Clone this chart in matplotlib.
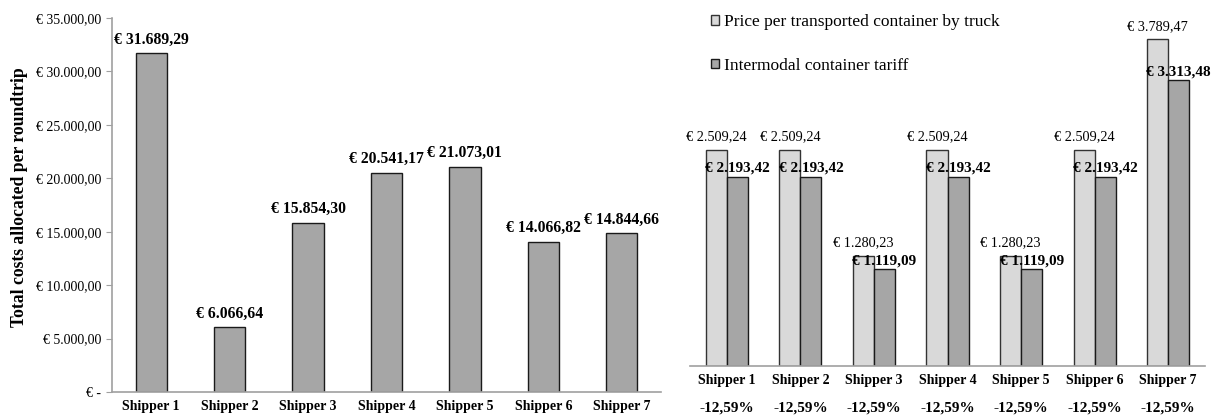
import matplotlib.pyplot as plt
import numpy as np

plt.rcParams['font.family'] = ['Liberation Serif', 'DejaVu Serif']

shippers = ['Shipper 1', 'Shipper 2', 'Shipper 3', 'Shipper 4', 'Shipper 5', 'Shipper 6', 'Shipper 7']
total_costs = [31689.29, 6066.64, 15854.30, 20541.17, 21073.01, 14066.82, 14844.66]
truck_price = [2509.24, 2509.24, 1280.23, 2509.24, 1280.23, 2509.24, 3789.47]
intermodal_tariff = [2193.42, 2193.42, 1119.09, 2193.42, 1119.09, 2193.42, 3313.48]
reduction = ['-12,59%'] * 7
left_ticks = [0, 5000, 10000, 15000, 20000, 25000, 30000, 35000]


def euro(v):
    # 31689.29 -> "€ 31.689,29"
    s = f"{v:,.2f}".replace(',', 'X').replace('.', ',').replace('X', '.')
    return '€ ' + s


fig = plt.figure(figsize=(12.19, 4.15), dpi=100)
axis_col = '#A0A0A0'
x = np.arange(len(shippers))

# left chart: total costs per roundtrip
ax1 = fig.add_axes([112 / 1219, 1 - 392 / 415, 549 / 1219, 374 / 415])
bars = ax1.bar(x, total_costs, width=0.4, color='#A6A6A6', edgecolor='#1a1a1a', linewidth=1)
for b, v in zip(bars, total_costs):
    ax1.annotate(euro(v), (b.get_x() + b.get_width() / 2, v), xytext=(0, 4),
                 textcoords='offset points', ha='center', va='bottom',
                 fontsize=11.3, fontweight='bold')
ax1.set_xlim(-0.5, len(shippers) - 0.5)
ax1.set_ylim(0, 35000)
ax1.set_yticks(left_ticks)
ax1.set_yticklabels(['€ -'] + [euro(t) for t in left_ticks[1:]], fontsize=10)
ax1.set_xticks(x)
ax1.set_xticklabels(shippers, fontsize=10, fontweight='bold')
ax1.tick_params(axis='x', length=0, pad=6)
ax1.tick_params(axis='y', length=4, color=axis_col, pad=4)
for s in ['top', 'right']:
    ax1.spines[s].set_visible(False)
for s in ['left', 'bottom']:
    ax1.spines[s].set_color(axis_col)
    ax1.spines[s].set_linewidth(1.2)
ax1.set_ylabel('Total costs allocated per roundtrip', fontsize=12.7, fontweight='bold')
ax1.yaxis.set_label_coords(-0.153, 0.52)

# right chart: truck price vs intermodal tariff
ax2 = fig.add_axes([690 / 1219, 1 - 366 / 415, 515 / 1219, 345 / 415])
w = 0.286
b1 = ax2.bar(x - w / 2, truck_price, width=w, color='#D9D9D9', edgecolor='#333333', linewidth=1,
             label='Price per transported container by truck')
b2 = ax2.bar(x + w / 2, intermodal_tariff, width=w, color='#A6A6A6', edgecolor='#1a1a1a', linewidth=1,
             label='Intermodal container tariff')
for b, v in zip(b1, truck_price):
    ax2.annotate(euro(v), (b.get_x() + b.get_width() / 2, v), xytext=(0, 4.5),
                 textcoords='offset points', ha='center', va='bottom', fontsize=10.3)
for b, v in zip(b2, intermodal_tariff):
    ax2.annotate(euro(v), (b.get_x() + b.get_width() / 2, v), xytext=(0, 1.5),
                 textcoords='offset points', ha='center', va='bottom',
                 fontsize=11, fontweight='bold')
ax2.set_xlim(-0.5, len(shippers) - 0.5)
ax2.set_ylim(0, 4000)
ax2.set_yticks([])
ax2.set_xticks(x)
ax2.set_xticklabels(shippers, fontsize=10, fontweight='bold')
ax2.tick_params(axis='x', length=0, pad=6)
for i, r in enumerate(reduction):
    ax2.annotate(r, (i, 0), xycoords=ax2.get_xaxis_transform(), xytext=(0, -30),
                 textcoords='offset points', ha='center', va='center',
                 fontsize=11, fontweight='bold')
for s in ['top', 'right', 'left']:
    ax2.spines[s].set_visible(False)
ax2.spines['bottom'].set_color(axis_col)
ax2.spines['bottom'].set_linewidth(1.2)
ax2.legend(loc='upper left', bbox_to_anchor=(0.041, 1.02), frameon=False, fontsize=12.5,
           handlelength=0.45, handleheight=0.45, handletextpad=0.3, labelspacing=1.6,
           borderaxespad=0, borderpad=0)

fig.savefig('out.png', dpi=100)
